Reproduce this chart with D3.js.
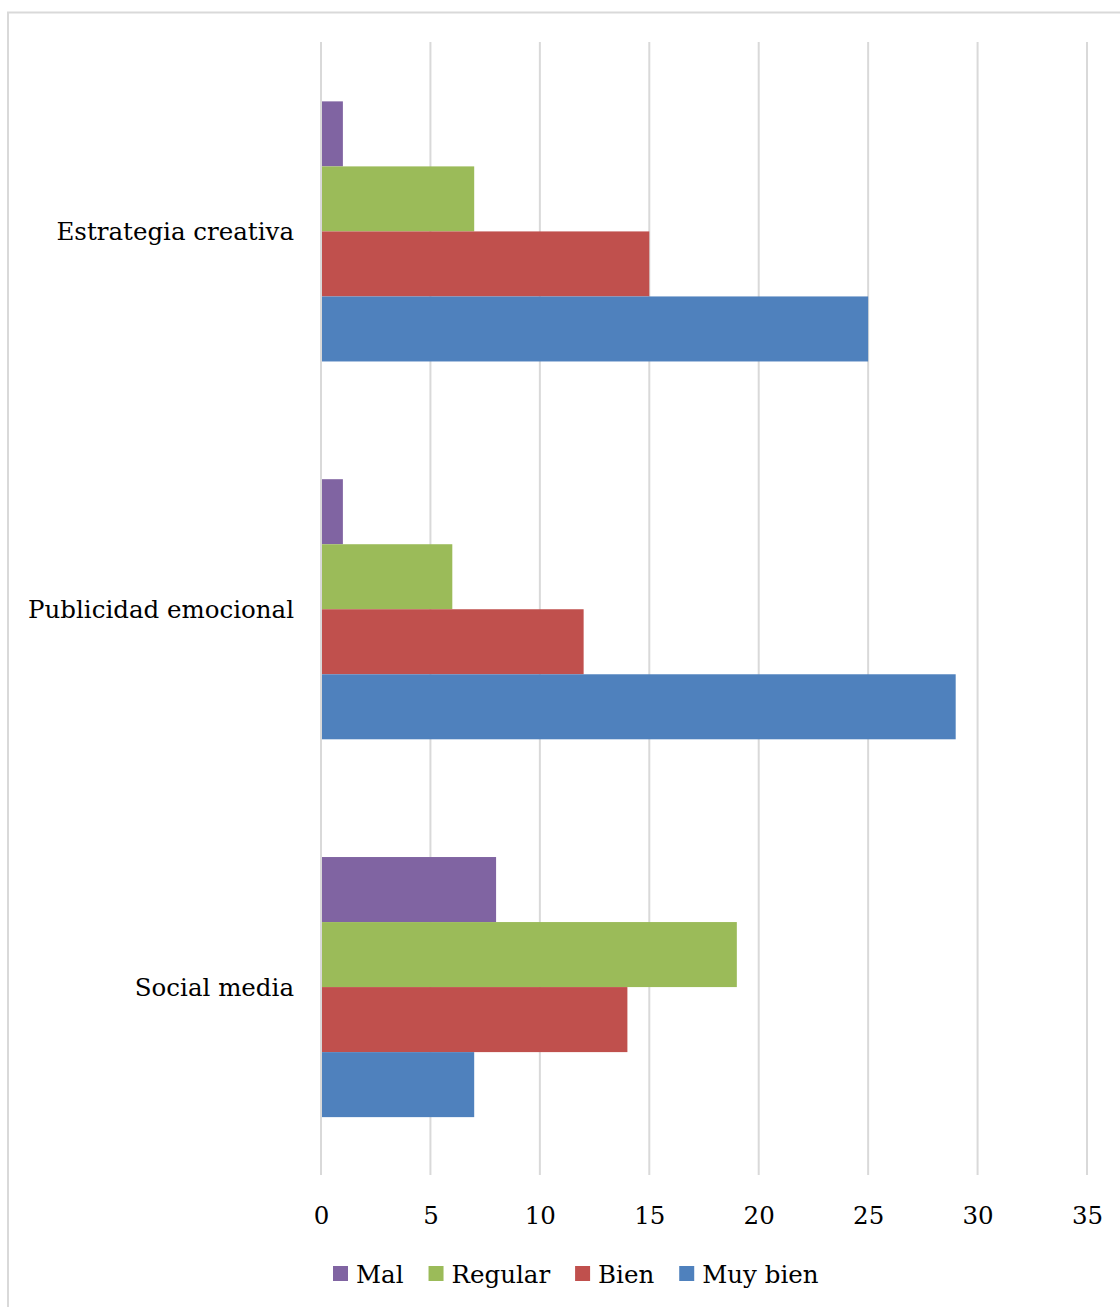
<!DOCTYPE html>
<html><head><meta charset="utf-8">
<script src="https://cdn.jsdelivr.net/npm/d3@7"></script>
<style>body{margin:0;background:#fff}svg{display:block}</style>
</head><body>
<svg id="c" width="1120" height="1307"></svg>
<script>
const categories = ["Estrategia creativa", "Publicidad emocional", "Social media"];
const seriesNames = ["Mal", "Regular", "Bien", "Muy bien"];
const seriesColors = ["#8064A2", "#9BBB59", "#C0504D", "#4F81BD"];
const valuesMal = [1, 1, 8];
const valuesRegular = [7, 6, 19];
const valuesBien = [15, 12, 14];
const valuesMuyBien = [25, 29, 7];
const tickValues = [0, 5, 10, 15, 20, 25, 30, 35];

const seriesValues = [valuesMal, valuesRegular, valuesBien, valuesMuyBien];
const font = "'DejaVu Serif', serif";
const fs = 24.5;
const svg = d3.select("#c");

svg.append("rect").attr("x", 8).attr("y", 12.5).attr("width", 1130).attr("height", 1310)
  .attr("fill", "#fff").attr("stroke", "#d9d9d9").attr("stroke-width", 2);

const x = d3.scaleLinear().domain([0, 35]).range([321, 1087]);
const y0 = d3.scaleBand().domain(categories).range([42.5, 1176]).paddingInner(0.3116).paddingOuter(0.1558);
const y1 = d3.scaleBand().domain(seriesNames).range([0, y0.bandwidth()]);

// gridlines
svg.append("g").selectAll("line").data(tickValues).join("line")
  .attr("x1", d => x(d)).attr("x2", d => x(d)).attr("y1", 42).attr("y2", 1175)
  .attr("stroke", "#d9d9d9").attr("stroke-width", 2);

// bars
const g = svg.append("g");
categories.forEach((c, ci) => {
  seriesNames.forEach((s, si) => {
    g.append("rect")
      .attr("x", x(0) + 1).attr("y", y0(c) + y1(s))
      .attr("width", x(seriesValues[si][ci]) - x(0) - 1)
      .attr("height", y1.bandwidth())
      .attr("fill", seriesColors[si]);
  });
});

// category labels
svg.append("g").selectAll("text").data(categories).join("text")
  .attr("x", 294).attr("y", d => y0(d) + y0.bandwidth() / 2)
  .attr("dy", "0.35em").attr("text-anchor", "end")
  .attr("font-family", font).attr("font-size", fs).attr("fill", "#000")
  .text(d => d);

// x-axis tick labels
const axis = d3.axisBottom(x).tickValues(tickValues).tickSize(0).tickPadding(0);
const ax = svg.append("g").attr("transform", "translate(0,1215)").call(axis);
ax.select(".domain").remove();
ax.selectAll("text").attr("font-family", font).attr("font-size", fs).attr("fill", "#000")
  .attr("dy", "0.35em").attr("y", 0);

// legend
const leg = svg.append("g");
let lx = 333;
seriesNames.forEach((s, i) => {
  leg.append("rect").attr("x", lx).attr("y", 1266).attr("width", 15).attr("height", 15).attr("fill", seriesColors[i]);
  const t = leg.append("text").attr("x", lx + 23).attr("y", 1274).attr("dy", "0.35em")
    .attr("font-family", font).attr("font-size", fs).attr("fill", "#000").text(s);
  lx += 23 + t.node().getComputedTextLength() + 25;
});
</script>
</body></html>
